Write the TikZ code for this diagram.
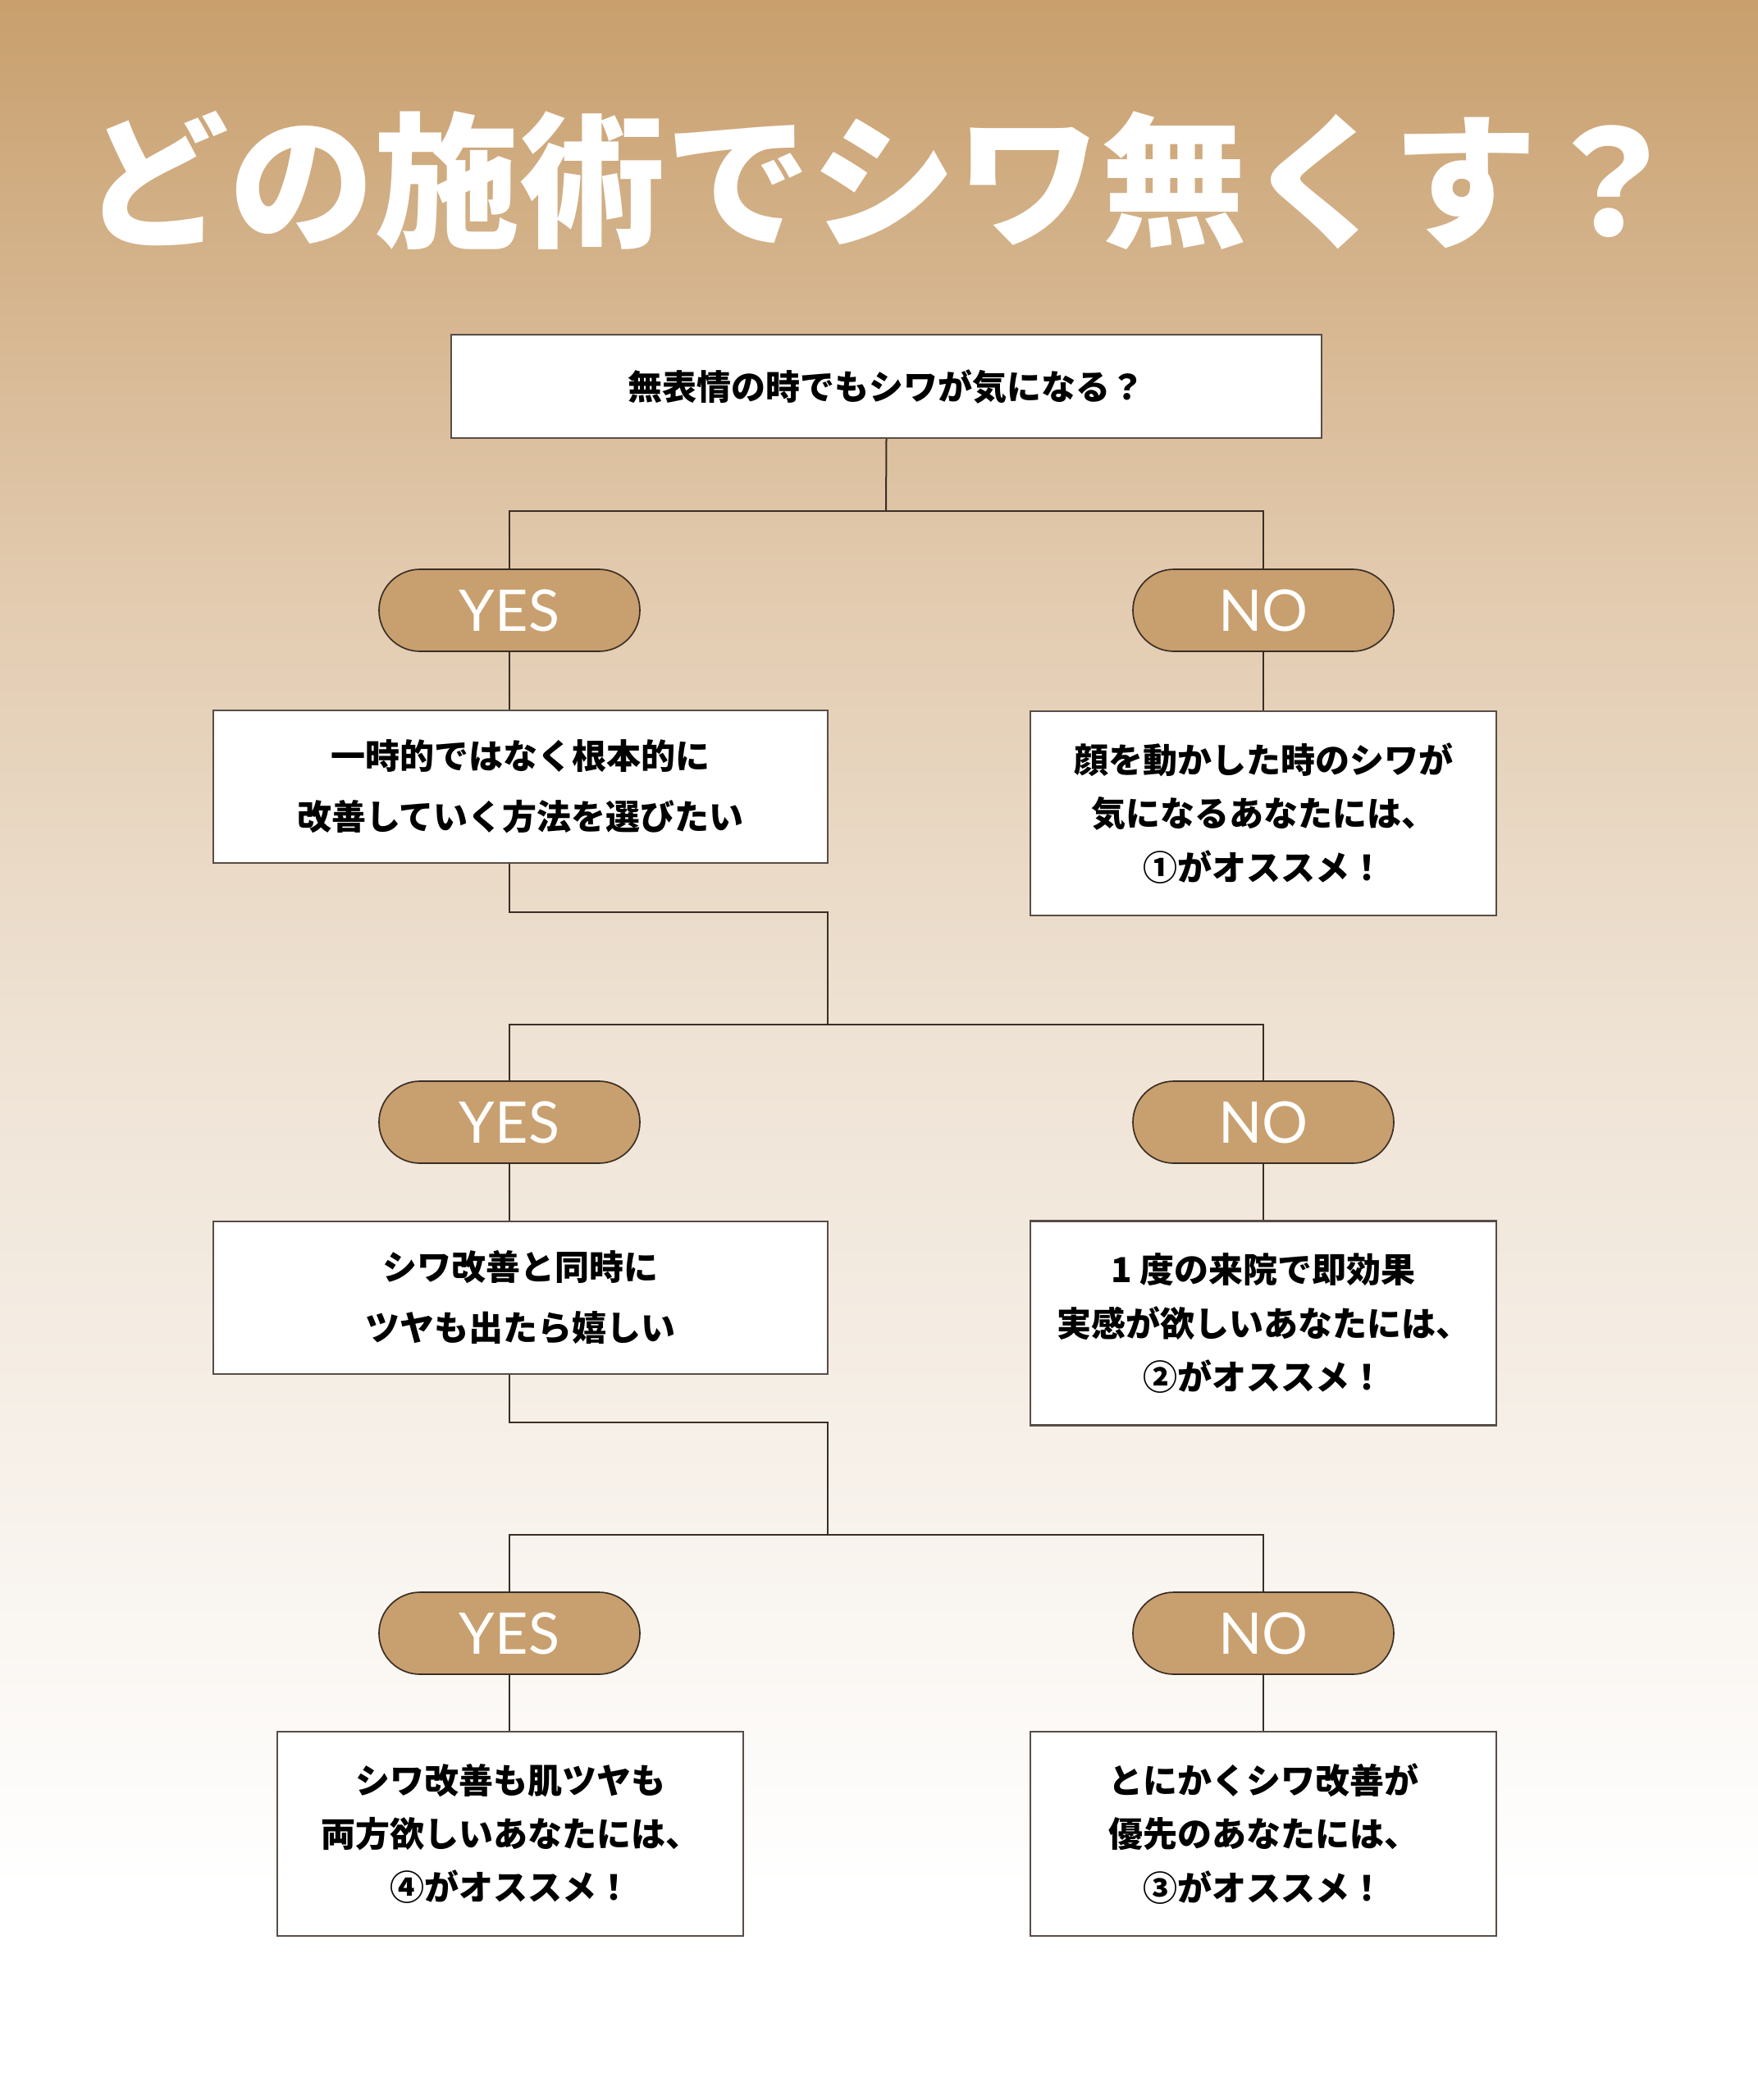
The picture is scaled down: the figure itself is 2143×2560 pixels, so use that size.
\documentclass[tikz,border=0pt]{standalone}
\usepackage{fontspec}
\setmainfont{Lato}
\newfontfamily\jpfont{Noto Sans CJK JP}
\usepackage{tikz}
\usetikzlibrary{positioning,calc}
\definecolor{bgtop}{HTML}{C89F6D}
\definecolor{bga}{HTML}{E2CAAE}
\definecolor{bgb}{HTML}{EEE2D3}
\definecolor{bgc}{HTML}{F7F1EA}
\definecolor{pillfill}{HTML}{C89F6E}
\definecolor{ink}{HTML}{3A2E25}
\pgfdeclareverticalshading{bgfade}{100bp}{color(0bp)=(white); color(30bp)=(white);
  color(39.8bp)=(bgc); color(50.6bp)=(bgb); color(61.3bp)=(bga); color(75bp)=(bgtop); color(100bp)=(bgtop)}
\tikzstyle{question}=[draw=ink!85,fill=white,line width=0.7pt,minimum width=224.7pt,minimum height=55.8pt,align=center,font=\jpfont\bfseries\fontsize{12.6pt}{22.2pt}\selectfont]
\tikzstyle{answer}=[draw=ink!85,fill=white,line width=0.7pt,minimum width=170.4pt,minimum height=74.7pt,align=center,font=\jpfont\bfseries\fontsize{12.6pt}{19.6pt}\selectfont]
\tikzstyle{pill}=[draw=ink,fill=pillfill,line width=0.5pt,rounded corners=15pt,minimum width=95.4pt,minimum height=30pt,text=white,font=\fontsize{21pt}{24pt}\selectfont]
\tikzstyle{link}=[draw=ink,line width=0.6pt]

\begin{document}
\begin{tikzpicture}[x=0.3pt,y=-0.3pt]
\useasboundingbox (0,0) rectangle (2143,2560);
\shade[shading=bgfade] (0,0) rectangle (2143,2560);

\node [text=white,font=\jpfont\bfseries\fontsize{53.2pt}{60pt}\selectfont] (title) at (1077,220) {どの施術でシワ無くす？};

% first question
\node [draw=ink!85,fill=white,line width=0.7pt,minimum width=318.3pt,minimum height=37.8pt,font=\jpfont\bfseries\fontsize{12.6pt}{20pt}\selectfont] (start) at (1080.5,471) {無表情の時でもシワが気になる？};
\coordinate (hub1) at (1080,623);
\node [pill] (yes1) at (621,744) {YES};
\node [pill] (no1) at (1540,744) {NO};
\node [question] (q2) at (634.5,959) {一時的ではなく根本的に\\改善していく方法を選びたい};
\node [answer] (r1) at (1540,991.5) {顔を動かした時のシワが\\気になるあなたには、\\①がオススメ！};

% second question
\coordinate (bend2) at (621,1112);
\coordinate (hub2) at (1009,1249);
\node [pill] (yes2) at (621,1368) {YES};
\node [pill] (no2) at (1540,1368) {NO};
\node [question] (q3) at (634.5,1582) {シワ改善と同時に\\ツヤも出たら嬉しい};
\node [answer] (r2) at (1540,1613) {1 度の来院で即効果\\実感が欲しいあなたには、\\②がオススメ！};

% third question
\coordinate (bend3) at (621,1734);
\coordinate (hub3) at (1009,1871);
\node [pill] (yes3) at (621,1991) {YES};
\node [pill] (no3) at (1540,1991) {NO};
\node [answer] (r4) at (622,2235.5) {シワ改善も肌ツヤも\\両方欲しいあなたには、\\④がオススメ！};
\node [answer] (r3) at (1540,2235.5) {とにかくシワ改善が\\優先のあなたには、\\③がオススメ！};

% connectors
\draw [link] (start.south) -- (hub1);
\draw [link] (yes1.north) |- (hub1) -| (no1.north);
\draw [link] (yes1.south) -- (yes1.south |- q2.north);
\draw [link] (no1.south) -- (r1.north);
\draw [link] (q2.south -| bend2) -- (bend2) -| (hub2);
\draw [link] (yes2.north) |- (hub2) -| (no2.north);
\draw [link] (yes2.south) -- (yes2.south |- q3.north);
\draw [link] (no2.south) -- (r2.north);
\draw [link] (q3.south -| bend3) -- (bend3) -| (hub3);
\draw [link] (yes3.north) |- (hub3) -| (no3.north);
\draw [link] (yes3.south) -- (yes3.south |- r4.north);
\draw [link] (no3.south) -- (r3.north);
\end{tikzpicture}
\end{document}
